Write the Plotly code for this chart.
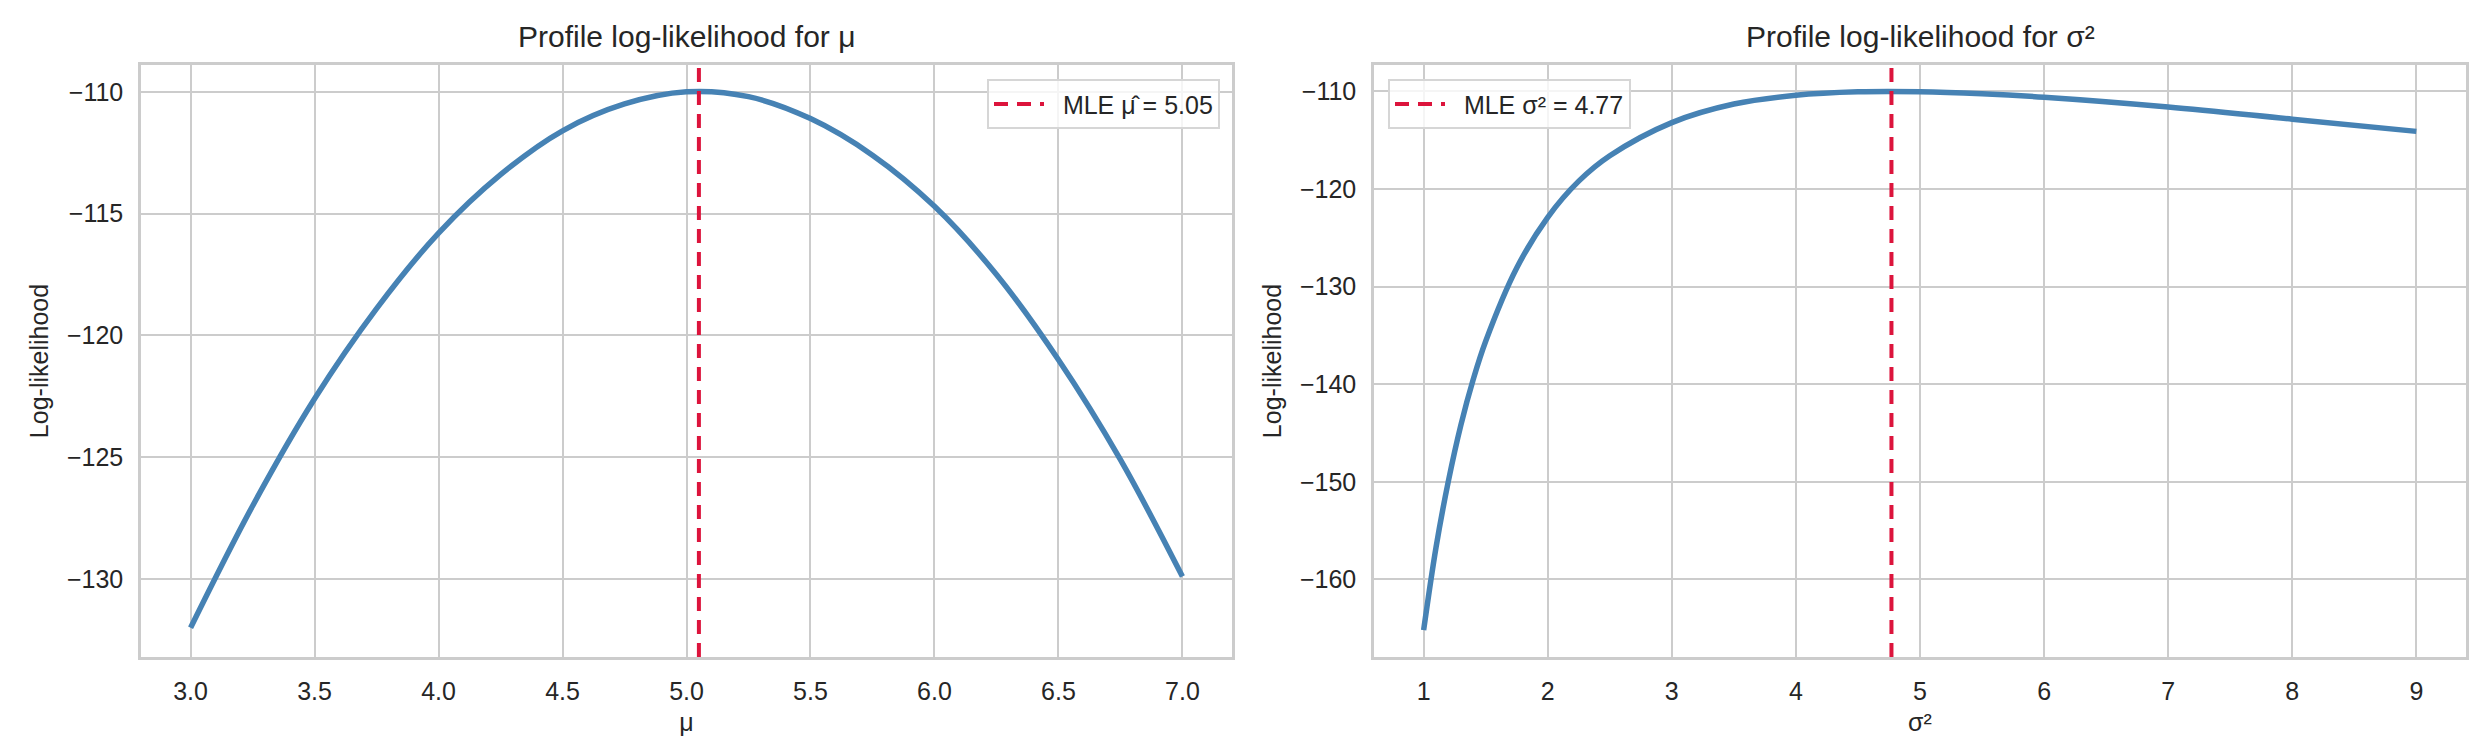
import plotly.graph_objects as go

# ---- data ----
mu_vals = [3.0, 3.25, 3.5, 3.75, 4.0, 4.25, 4.5, 4.75, 5.0, 5.25, 5.5, 5.75, 6.0, 6.25, 6.5, 6.75, 7.0]
mu_ll = [-132.0, -127.0, -122.6, -118.9, -115.8, -113.4, -111.6, -110.5, -110.0, -110.2,
         -111.1, -112.6, -114.7, -117.5, -121.0, -125.1, -129.9]
mu_mle = 5.05

s2_vals = [1.0, 1.1, 1.2, 1.3, 1.4, 1.5, 1.75, 2.0, 2.25, 2.5, 3.0, 3.5, 4.0, 4.5, 5.0, 5.5, 6.0, 7.0, 8.0, 9.0]
s2_ll = [-165.2, -156.7, -149.9, -144.2, -139.5, -135.6, -128.1, -122.9, -119.2, -116.6,
         -113.2, -111.3, -110.4, -110.05, -110.04, -110.25, -110.6, -111.6, -112.85, -114.1]
s2_mle = 4.77

mu_xticks = [3.0, 3.5, 4.0, 4.5, 5.0, 5.5, 6.0, 6.5, 7.0]
mu_yticks = [-130, -125, -120, -115, -110]
s2_xticks = [1, 2, 3, 4, 5, 6, 7, 8, 9]
s2_yticks = [-160, -150, -140, -130, -120, -110]

BLUE = "#4682B4"
RED = "#DC143C"
GRID = "#cccccc"
TXT = "#262626"
FONT = "Liberation Sans, Arial, sans-serif"

W, H = 2477, 747
L, R, T, B = 133, 19, 57, 98
pw = W - L - R
left_dom = [0, (1224 - L) / pw]
right_dom = [(1366 - L) / pw, 1]

fig = go.Figure()
fig.add_trace(go.Scatter(x=mu_vals, y=mu_ll, mode="lines", line=dict(color=BLUE, width=5.5, shape="spline"),
                         showlegend=False, xaxis="x", yaxis="y"))
fig.add_trace(go.Scatter(x=s2_vals, y=s2_ll, mode="lines", line=dict(color=BLUE, width=5.5, shape="spline"),
                         showlegend=False, xaxis="x2", yaxis="y2"))

fig.add_shape(type="line", xref="x", yref="y domain", x0=mu_mle, x1=mu_mle, y0=0, y1=1,
              line=dict(color=RED, width=4, dash="14px,9px"), showlegend=True,
              name=f"  MLE \u03bc\u0302 = {mu_mle:.2f}", legend="legend")
fig.add_shape(type="line", xref="x2", yref="y2 domain", x0=s2_mle, x1=s2_mle, y0=0, y1=1,
              line=dict(color=RED, width=4, dash="14px,9px"), showlegend=True,
              name=f"  MLE \u03c3\u00b2 = {s2_mle:.2f}", legend="legend2")

axis_common = dict(showgrid=True, gridcolor=GRID, gridwidth=2, showline=True, linecolor=GRID, linewidth=2.5,
                   mirror=True, zeroline=False, ticks="", tickfont=dict(size=25, color=TXT, family=FONT),
                   ticklabelstandoff=10)

legend_common = dict(bgcolor="rgba(255,255,255,0.8)", bordercolor="#d6d6d6", borderwidth=2,
                     font=dict(size=25, color=TXT, family=FONT), yanchor="top", y=0.976,
                     itemwidth=50, tracegroupgap=0)

fig.update_layout(
    width=W, height=H,
    margin=dict(l=L, r=R, t=T, b=B, autoexpand=False),
    paper_bgcolor="white", plot_bgcolor="white",
    font=dict(family=FONT, color=TXT, size=25),
    xaxis=dict(domain=left_dom, range=[2.8, 7.2], tickvals=mu_xticks, tickformat=".1f",
               title=dict(text="\u03bc", font=dict(size=25), standoff=10), anchor="y", **axis_common),
    yaxis=dict(domain=[0, 1], range=[-133.2, -108.9], tickvals=mu_yticks,
               title=dict(text="Log-likelihood", font=dict(size=25), standoff=12), anchor="x", **axis_common),
    xaxis2=dict(domain=right_dom, range=[0.6, 9.4], tickvals=s2_xticks,
                title=dict(text="\u03c3\u00b2", font=dict(size=25), standoff=10), anchor="y2", **axis_common),
    yaxis2=dict(domain=[0, 1], range=[-167.95, -107.3], tickvals=s2_yticks,
                title=dict(text="Log-likelihood", font=dict(size=25), standoff=12), anchor="x2", **axis_common),
    legend=dict(x=(1212 - L) / pw, xanchor="right", **legend_common),
    legend2=dict(x=(1380 - L) / pw, xanchor="left", **legend_common),
    annotations=[
        dict(text="Profile log-likelihood for \u03bc", xref="paper", yref="paper",
             x=(left_dom[0] + left_dom[1]) / 2, y=1, yshift=10, xanchor="center", yanchor="bottom",
             showarrow=False, font=dict(size=30, color=TXT, family=FONT)),
        dict(text="Profile log-likelihood for \u03c3\u00b2", xref="paper", yref="paper",
             x=(right_dom[0] + right_dom[1]) / 2, y=1, yshift=10, xanchor="center", yanchor="bottom",
             showarrow=False, font=dict(size=30, color=TXT, family=FONT)),
    ],
)

fig.write_html("out.html")
